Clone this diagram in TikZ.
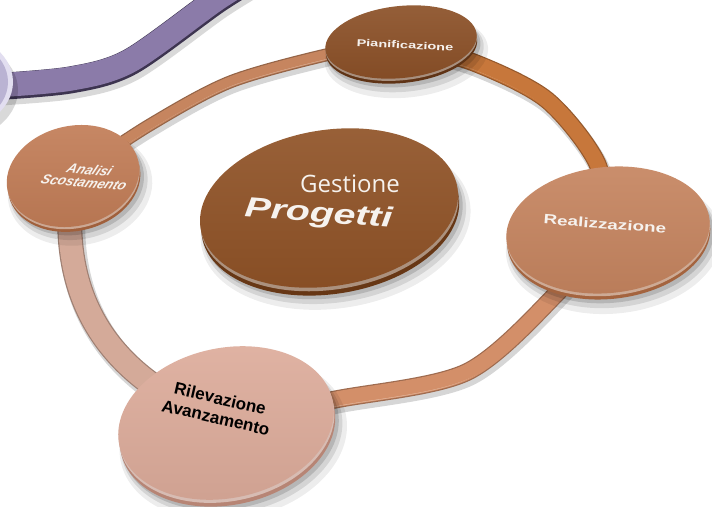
\documentclass[tikz,border=0pt]{standalone}
\usepackage{fontspec}
\setmainfont{Liberation Sans}
\newfontfamily\gestfont{Open Sans}
\usetikzlibrary{shapes.geometric}

% palette
\definecolor{purpleband}{HTML}{8B7BA9}
\definecolor{purpleedge}{HTML}{3D3450}
\definecolor{lavender}{HTML}{BAB3D3}
\definecolor{lavedge}{HTML}{E2DEF0}
\definecolor{segA}{HTML}{C6855F}
\definecolor{segB}{HTML}{C7773B}
\definecolor{segC}{HTML}{D38F69}
\definecolor{segD}{HTML}{D4AA99}
\definecolor{piaTop}{HTML}{8B5027}
\definecolor{piaRim}{HTML}{5F3315}
\definecolor{anaTop}{HTML}{C17C56}
\definecolor{anaRim}{HTML}{A0603C}
\definecolor{gesTop}{HTML}{8F5226}
\definecolor{gesRim}{HTML}{673715}
\definecolor{reaTop}{HTML}{C5845F}
\definecolor{reaRim}{HTML}{A4643F}
\definecolor{rilTop}{HTML}{DCAB9A}
\definecolor{rilRim}{HTML}{B78575}
\definecolor{labelwhite}{HTML}{F6F2EE}

% a bevelled band of the ring: #1 width, #2 colour, #3 path
\newcommand\ringband[3]{%
  \draw[black, opacity=.16, line width=#1+2, line cap=butt,
        transform canvas={xshift=2pt,yshift=-4pt}] #3;
  \draw[#2!75!black, line width=#1, line cap=butt] #3;
  \draw[#2, line width=#1-2.4, line cap=butt] #3;
  \draw[#2!70!white, line width=1, line cap=butt,
        transform canvas={yshift=-#1*0.5pt+2.2pt}] #3;
  \draw[#2, line width=#1-5, line cap=butt] #3;
}

% a raised disc: #1 x, #2 y, #3 rx, #4 ry, #5 rotation, #6 top colour, #7 rim colour, #8 rim depth
\newcommand\raiseddisc[8]{%
  \begin{scope}[shift={(#1,#2)}, rotate=#5]
    \fill[black, opacity=.07] (4,#8+9) ellipse ({#3+6} and {#4+6});
    \fill[black, opacity=.10] (3,#8+6) ellipse ({#3+3} and {#4+3});
    \fill[black, opacity=.14] (2,#8+3) ellipse ({#3+1} and {#4+1});
    \fill[#7] (0,#8) ellipse (#3 and #4);
    \fill[#7!55!white] (0,{#8*0.45}) ellipse (#3 and #4);
    \shade[top color=#6!92!white, bottom color=#6!94!black] (0,0) ellipse (#3 and #4);
  \end{scope}
}

\tikzset{
  lbl/.style={text=labelwhite, font=\bfseries, inner sep=0pt, align=center},
}

\begin{document}
\begin{tikzpicture}[x=1pt,y=-1pt]
\useasboundingbox (0,0) rectangle (712,506);
\fill[white] (0,0) rectangle (712,506);
\begin{scope}
\clip (0,0) rectangle (712,506);

% purple band and lavender disc in the corner
\draw[black, opacity=.15, line width=28,
      transform canvas={xshift=2pt,yshift=-5pt}]
  plot[smooth] coordinates {(266,-30) (217,0) (130,62) (70,80) (-10,87)};
\draw[purpleedge, line width=27] plot[smooth] coordinates {(266,-30) (217,0) (130,62) (70,80) (-10,87)};
\draw[purpleband, line width=24,
      transform canvas={yshift=1.2pt}]
  plot[smooth] coordinates {(266,-30) (217,0) (130,62) (70,80) (-10,87)};
\fill[black, opacity=.15] (-58,90) ellipse (76 and 54);
\fill[lavedge] (-62,82) ellipse (75 and 53);
\fill[lavender] (-64,82) ellipse (72 and 50);

% centres of the discs
\coordinate (pia) at (401,42);
\coordinate (ana) at (73,176);
\coordinate (rea) at (608,230);
\coordinate (ril) at (226,423);
\coordinate (ges) at (329,208);

% the ring joining the steps
\ringband{13}{segA}{plot[smooth] coordinates {(ana) (148,126) (230,82) (330,54) (pia)}}
\ringband{18}{segB}{plot[smooth] coordinates {(pia) (475,63) (547,100) (597,163) (rea)}}
\ringband{18}{segC}{plot[smooth] coordinates {(rea) (560,290) (467,372) (333,400) (ril)}}
\ringband{25}{segD}{(ril) .. controls (110,380) and (55,300) .. (ana)}

% discs
\raiseddisc{401}{42}{76}{36}{6}{piaTop}{piaRim}{5}
\raiseddisc{73}{176}{67}{50}{13}{anaTop}{anaRim}{5}
\raiseddisc{329}{208}{130}{78}{9}{gesTop}{gesRim}{8}
\raiseddisc{608}{230}{102}{63}{6}{reaTop}{reaRim}{6}
\raiseddisc{226}{423}{109}{75}{12}{rilTop}{rilRim}{7}

% labels
\node[lbl, rotate=-3] (pia-t) at (405,45)
  {\scalebox{1.45}[1]{\fontsize{10}{12}\selectfont Pianificazione}};
\node[lbl, rotate=-5, xslant=0.35,
      font={\bfseries\itshape\fontsize{13.5}{13}\selectfont}] (ana-t) at (87,176)
  {Analisi\\Scostamento};
\node[text=labelwhite, inner sep=0pt, anchor=base] (ges-t1) at (350,192)
  {\gestfont\fontsize{24}{28}\selectfont Gestione};
\node[text=labelwhite, inner sep=0pt, anchor=base, rotate=-4.5] (ges-t2) at (318,222)
  {\scalebox{1.4}[1]{\fontsize{28}{32}\selectfont\bfseries\itshape Progetti}};
\node[lbl, rotate=-4.5] (rea-t) at (605,224)
  {\scalebox{1.4}[1]{\fontsize{13.5}{16}\selectfont Realizzazione}};
\node[lbl, text=black, rotate=-13,
      font={\bfseries\fontsize{17}{19.5}\selectfont}] (ril-t) at (218,408)
  {Rilevazione\\Avanzamento};
\end{scope}
\end{tikzpicture}
\end{document}
